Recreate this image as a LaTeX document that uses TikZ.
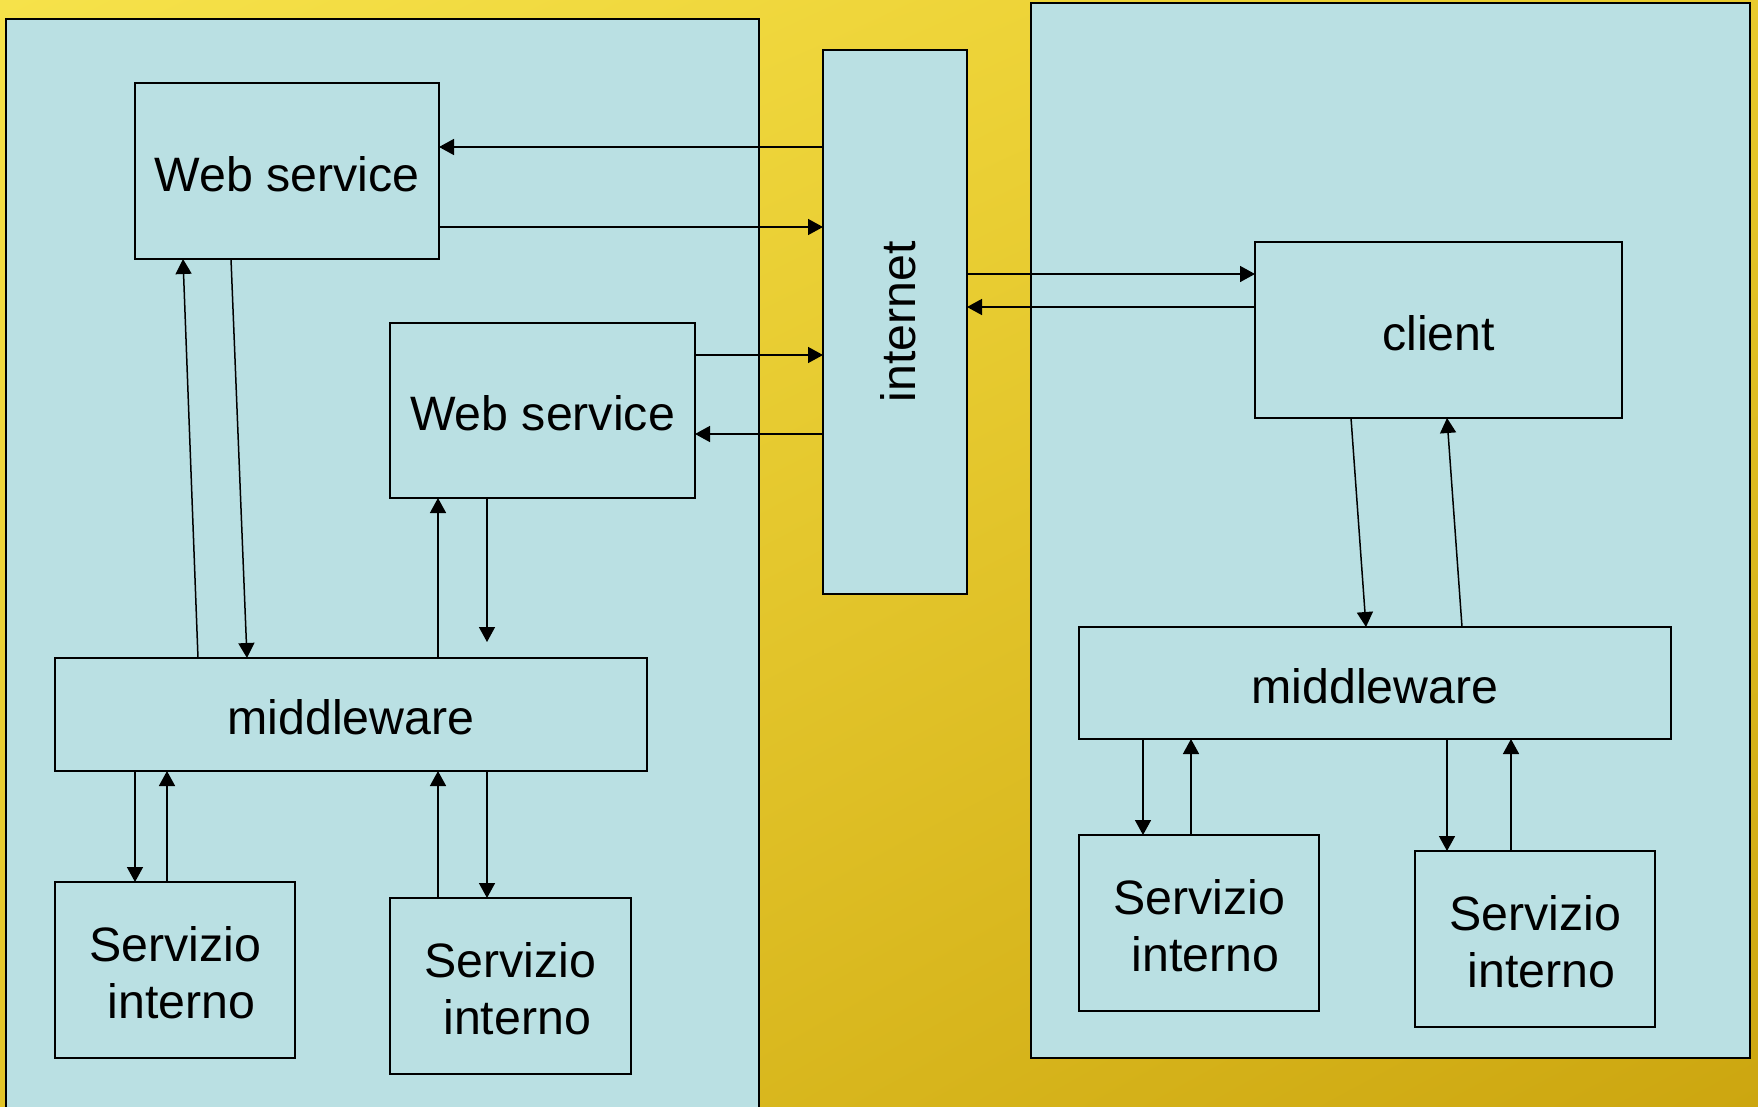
\documentclass[tikz,border=0pt]{standalone}
\usepackage{fontspec}
\setmainfont{Liberation Sans}
\usetikzlibrary{arrows.meta,shadings}

\definecolor{panelfill}{RGB}{186,224,227}
\definecolor{goldA}{RGB}{246,226,74}
\definecolor{goldB}{RGB}{232,202,44}
\definecolor{goldC}{RGB}{226,196,40}
\definecolor{goldD}{RGB}{204,166,16}

\tikzset{
  panel/.style={draw=black, line width=1.7pt, fill=panelfill},
  box/.style={draw=black, line width=1.6pt, fill=panelfill, inner sep=0pt, outer sep=0pt},
  txt/.style={align=center, font=\fontsize{48.3pt}{57pt}\selectfont},
  arr/.style={draw=black, line width=1.5pt, -{Triangle[length=15pt,width=16pt]}}
}

\begin{document}
\begin{tikzpicture}[x=1pt, y=-1pt]
  \useasboundingbox (0,0) rectangle (1758,1106);
  \clip (0,0) rectangle (1758,1106);

  % golden background
  \shade[upper left=goldA, upper right=goldB, lower left=goldC, lower right=goldD]
    (0,0) rectangle (1758,1106);

  % the two sites
  \draw[panel] (6,19) rectangle (759,1130);
  \draw[panel] (1031,3) rectangle (1750,1058);

  % boxes
  \node[box, minimum width=144pt, minimum height=544pt] (inet) at (895,322) {};
  \node[box, minimum width=304pt, minimum height=176pt] (ws1) at (287,171) {};
  \node[box, minimum width=305pt, minimum height=175pt] (ws2) at (542.5,410.5) {};
  \node[box, minimum width=367pt, minimum height=176pt] (client) at (1438.5,330) {};
  \node[box, minimum width=592pt, minimum height=113pt] (mwl) at (351,714.5) {};
  \node[box, minimum width=592pt, minimum height=112pt] (mwr) at (1375,683) {};
  \node[box, minimum width=240pt, minimum height=176pt] (sl1) at (175,970) {};
  \node[box, minimum width=241pt, minimum height=176pt] (sl2) at (510.5,986) {};
  \node[box, minimum width=240pt, minimum height=176pt] (sr1) at (1199,923) {};
  \node[box, minimum width=240pt, minimum height=176pt] (sr2) at (1535,939) {};

  % box labels
  \node[txt, rotate=90] (inettext) at ([xshift=3pt]inet.center) {internet};
  \node[txt] (ws1text) at ([yshift=-3pt]ws1.center) {Web service};
  \node[txt] (ws2text) at ([yshift=-3pt]ws2.center) {Web service};
  \node[txt] (clienttext) at ([yshift=-3pt]client.center) {client};
  \node[txt] (mwltext) at ([yshift=-3pt]mwl.center) {middleware};
  \node[txt] (mwrtext) at ([yshift=-3pt]mwr.center) {middleware};
  \node[txt] (sl1text) at ([yshift=-3pt]sl1.center) {Servizio\\\hspace*{0.278em}interno};
  \node[txt] (sl2text) at ([yshift=-3pt]sl2.center) {Servizio\\\hspace*{0.278em}interno};
  \node[txt] (sr1text) at ([yshift=-3pt]sr1.center) {Servizio\\\hspace*{0.278em}interno};
  \node[txt] (sr2text) at ([yshift=-3pt]sr2.center) {Servizio\\\hspace*{0.278em}interno};

  % internet <-> web services
  \draw[arr] ([yshift=175pt]inet.west) -- ([yshift=24pt]ws1.east);
  \draw[arr] ([yshift=-56pt]ws1.east) -- ([yshift=95pt]inet.west);
  \draw[arr] ([yshift=55.5pt]ws2.east) -- ([yshift=-33pt]inet.west);
  \draw[arr] ([yshift=-112pt]inet.west) -- ([yshift=-23.5pt]ws2.east);

  % internet <-> client
  \draw[arr] ([yshift=48pt]inet.east) -- ([yshift=56pt]client.west);
  \draw[arr] ([yshift=23pt]client.west) -- ([yshift=15pt]inet.east);

  % left middleware <-> web services
  \draw[arr] ([xshift=143pt]mwl.north west) -- ([xshift=48pt]ws1.south west);
  \draw[arr] ([xshift=96pt]ws1.south west) -- ([xshift=192pt]mwl.north west);
  \draw[arr] ([xshift=383pt]mwl.north west) -- ([xshift=48pt]ws2.south west);
  \draw[arr, shorten >=16pt] ([xshift=97pt]ws2.south west) -- ([xshift=432pt]mwl.north west);

  % left middleware <-> internal services
  \draw[arr] ([xshift=80pt]mwl.south west) -- ([xshift=80pt]sl1.north west);
  \draw[arr] ([xshift=112pt]sl1.north west) -- ([xshift=112pt]mwl.south west);
  \draw[arr] ([xshift=48pt]sl2.north west) -- ([xshift=383pt]mwl.south west);
  \draw[arr] ([xshift=432pt]mwl.south west) -- ([xshift=97pt]sl2.north west);

  % client <-> right middleware
  \draw[arr] ([xshift=96pt]client.south west) -- ([xshift=287pt]mwr.north west);
  \draw[arr] ([xshift=383pt]mwr.north west) -- ([xshift=192pt]client.south west);

  % right middleware <-> internal services
  \draw[arr] ([xshift=64pt]mwr.south west) -- ([xshift=64pt]sr1.north west);
  \draw[arr] ([xshift=112pt]sr1.north west) -- ([xshift=112pt]mwr.south west);
  \draw[arr] ([xshift=368pt]mwr.south west) -- ([xshift=32pt]sr2.north west);
  \draw[arr] ([xshift=96pt]sr2.north west) -- ([xshift=432pt]mwr.south west);
\end{tikzpicture}
\end{document}
